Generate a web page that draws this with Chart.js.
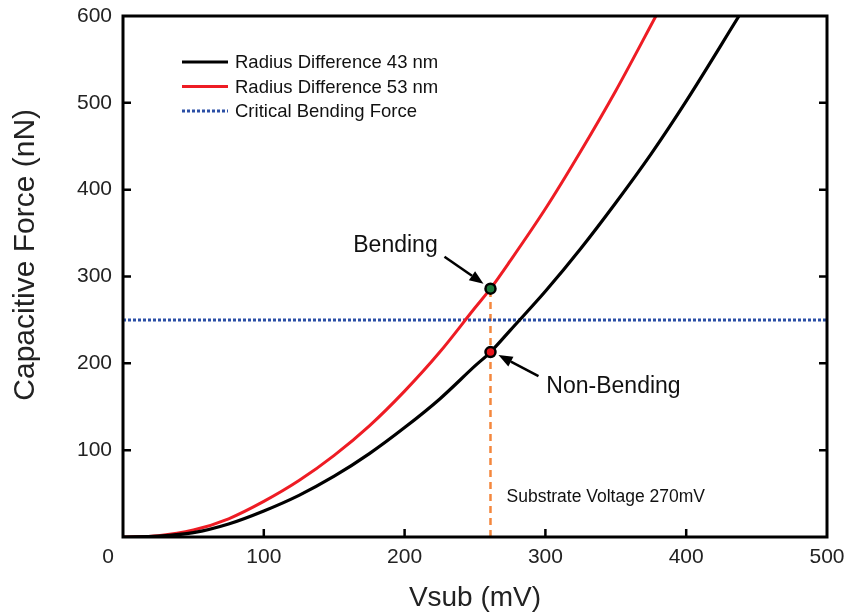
<!DOCTYPE html>
<html>
<head>
<meta charset="utf-8">
<script src="https://cdn.jsdelivr.net/npm/chart.js@4.4.1/dist/chart.umd.min.js"></script>
<style>
    html, body { margin: 0; padding: 0; background: #fff; }
    #wrap { width: 848px; height: 616px; }
</style>
</head>
<body>
<div id="wrap"><canvas id="capForce"></canvas></div>
<script>
// readings, Vsub in mV, force in nN
var vsub43 = [0, 25, 50, 75, 100, 125, 150, 175, 200, 225, 250, 261, 275, 300, 325, 350, 375, 400, 437.5];
var force43 = [0, 1, 5, 15, 30, 48, 70, 96, 126, 159, 197, 213, 238, 283, 332, 385, 441, 502, 600];
var vsub53 = [0, 25, 50, 75, 100, 125, 150, 175, 200, 225, 250, 261, 275, 300, 325, 350, 378.5];
var force53 = [0, 1.5, 8, 21, 41, 65, 94, 128, 168, 213, 264, 286, 318, 378, 444, 514, 600];
var criticalVsub = [0, 500];
var criticalForce = [250, 250];
var substrateVsub = [261, 261];
var substrateForce = [0, 286];
var bendingPoint = [261, 286];
var nonBendingPoint = [261, 213];
var xTickValues = [0, 100, 200, 300, 400, 500];
var yTickValues = [0, 100, 200, 300, 400, 500, 600];

var FONT = "'Liberation Sans', Arial, sans-serif";

function toPoints(xs, ys) {
    var pts = [];
    for (var i = 0; i < xs.length; ++i) {
        pts.push({ x: xs[i], y: ys[i] });
    }
    return pts;
}

function drawArrow(ctx, x1, y1, x2, y2) {
    var ang = Math.atan2(y2 - y1, x2 - x1);
    var head = 14, half = 5.5;
    var bx = x2 - Math.cos(ang) * head, by = y2 - Math.sin(ang) * head;
    ctx.save();
    ctx.strokeStyle = "#000";
    ctx.fillStyle = "#000";
    ctx.lineWidth = 2.5;
    ctx.beginPath();
    ctx.moveTo(x1, y1);
    ctx.lineTo(bx, by);
    ctx.stroke();
    ctx.beginPath();
    ctx.moveTo(x2, y2);
    ctx.lineTo(bx + Math.sin(ang) * half, by - Math.cos(ang) * half);
    ctx.lineTo(bx - Math.sin(ang) * half, by + Math.cos(ang) * half);
    ctx.closePath();
    ctx.fill();
    ctx.restore();
}

var framePlugin = {
    id: "frame",
    afterDatasetsDraw: function (chart) {
        var ctx = chart.ctx;
        var a = chart.chartArea;
        var xs = chart.scales.x, ys = chart.scales.y;

        ctx.save();
        // box round the plot
        ctx.strokeStyle = "#000";
        ctx.lineWidth = 3;
        ctx.strokeRect(a.left, a.top, a.right - a.left, a.bottom - a.top);

        // inward tick marks
        ctx.lineWidth = 2.5;
        ctx.beginPath();
        xTickValues.forEach(function (v) {
            if (v <= xs.min || v >= xs.max) return;
            var px = xs.getPixelForValue(v);
            ctx.moveTo(px, a.bottom);
            ctx.lineTo(px, a.bottom - 8);
        });
        yTickValues.forEach(function (v) {
            if (v <= ys.min || v >= ys.max) return;
            var py = ys.getPixelForValue(v);
            ctx.moveTo(a.left, py);
            ctx.lineTo(a.left + 8, py);
            ctx.moveTo(a.right, py);
            ctx.lineTo(a.right - 8, py);
        });
        ctx.stroke();

        // the "0" on the x axis sits left of the corner
        ctx.fillStyle = "#222";
        ctx.font = "21px " + FONT;
        ctx.textAlign = "center";
        ctx.textBaseline = "middle";
        ctx.fillText("0", xs.getPixelForValue(0) - 15, a.bottom + 20);

        // y axis title, sits a bit above the middle in the original
        ctx.save();
        ctx.font = "30px " + FONT;
        ctx.translate(26, ys.getPixelForValue(325));
        ctx.rotate(-Math.PI / 2);
        ctx.fillText("Capacitive Force (nN)", 0, 0);
        ctx.restore();

        // legend
        ctx.font = "18.5px " + FONT;
        ctx.textAlign = "left";
        var lx = a.left + 59, ly = a.top + 46;
        chart.data.datasets.forEach(function (ds) {
            if (!ds.inLegend) return;
            ctx.save();
            ctx.strokeStyle = ds.borderColor;
            ctx.lineWidth = ds.borderWidth;
            ctx.setLineDash(ds.borderDash || []);
            ctx.beginPath();
            ctx.moveTo(lx, ly);
            ctx.lineTo(lx + 46, ly);
            ctx.stroke();
            ctx.restore();
            ctx.fillStyle = "#111";
            ctx.fillText(ds.label, lx + 53, ly + 1);
            ly += 24.5;
        });

        // annotations
        var bx = xs.getPixelForValue(bendingPoint[0]), by = ys.getPixelForValue(bendingPoint[1]);
        var nx = xs.getPixelForValue(nonBendingPoint[0]), ny = ys.getPixelForValue(nonBendingPoint[1]);
        ctx.fillStyle = "#111";
        ctx.font = "23px " + FONT;
        ctx.textAlign = "center";
        ctx.fillText("Bending", bx - 95, by - 43);
        ctx.fillText("Non-Bending", nx + 123, ny + 35);
        drawArrow(ctx, bx - 46, by - 32, bx - 7, by - 5);
        drawArrow(ctx, nx + 48, ny + 24, nx + 8, ny + 3);

        ctx.font = "17.5px " + FONT;
        ctx.textAlign = "left";
        ctx.fillText("Substrate Voltage 270mV", xs.getPixelForValue(substrateVsub[0]) + 16, ys.getPixelForValue(46));
        ctx.restore();
    }
};

var config = {
    type: "scatter",
    data: {
        datasets: [{
            label: "Radius Difference 43 nm",
            inLegend: true,
            showLine: true,
            data: toPoints(vsub43, force43),
            borderColor: "#000000",
            borderWidth: 3.2,
            pointRadius: 0,
            cubicInterpolationMode: "monotone",
            order: 3
        }, {
            label: "Radius Difference 53 nm",
            inLegend: true,
            showLine: true,
            data: toPoints(vsub53, force53),
            borderColor: "#ee1c24",
            borderWidth: 3,
            pointRadius: 0,
            cubicInterpolationMode: "monotone",
            order: 3
        }, {
            label: "Critical Bending Force",
            inLegend: true,
            showLine: true,
            data: toPoints(criticalVsub, criticalForce),
            borderColor: "#2b4fa5",
            borderWidth: 3,
            borderDash: [3, 2],
            pointRadius: 0,
            order: 4
        }, {
            label: "Substrate Voltage",
            showLine: true,
            data: toPoints(substrateVsub, substrateForce),
            borderColor: "#f4873d",
            borderWidth: 2.5,
            borderDash: [7, 5],
            pointRadius: 0,
            order: 4
        }, {
            label: "Bending",
            data: [{ x: bendingPoint[0], y: bendingPoint[1] }],
            pointRadius: 5,
            pointBackgroundColor: "#1d7a3c",
            pointBorderColor: "#000",
            pointBorderWidth: 2.5,
            order: 1
        }, {
            label: "Non-Bending",
            data: [{ x: nonBendingPoint[0], y: nonBendingPoint[1] }],
            pointRadius: 5,
            pointBackgroundColor: "#e8141c",
            pointBorderColor: "#000",
            pointBorderWidth: 2.5,
            order: 1
        }]
    },
    options: {
        responsive: true,
        maintainAspectRatio: false,
        animation: false,
        layout: { padding: { top: 16, right: 21, left: 0, bottom: 0 } },
        plugins: {
            legend: { display: false },
            tooltip: { enabled: false }
        },
        scales: {
            x: {
                type: "linear",
                min: 0,
                max: 500,
                afterFit: function (scale) {
                    scale.height = 79;
                    scale.paddingLeft = 0;
                    scale.paddingRight = 0;
                },
                afterBuildTicks: function (scale) {
                    scale.ticks = xTickValues.map(function (v) { return { value: v }; });
                },
                grid: { display: false, drawTicks: false },
                border: { display: false },
                ticks: {
                    padding: 8,
                    color: "#222",
                    font: { family: FONT, size: 21 },
                    callback: function (v) { return v === 0 ? "" : v; }
                },
                title: {
                    display: true,
                    text: "Vsub (mV)",
                    color: "#222",
                    padding: { top: 0, bottom: 1 },
                    font: { family: FONT, size: 28 }
                }
            },
            y: {
                type: "linear",
                min: 0,
                max: 600,
                afterFit: function (scale) {
                    scale.width = 123;
                    scale.paddingTop = 0;
                    scale.paddingBottom = 0;
                },
                afterBuildTicks: function (scale) {
                    scale.ticks = yTickValues.map(function (v) { return { value: v }; });
                },
                grid: { display: false, drawTicks: false },
                border: { display: false },
                ticks: {
                    padding: 11,
                    color: "#222",
                    font: { family: FONT, size: 21 },
                    callback: function (v) { return v === 0 ? "" : v; }
                },
                title: { display: false }
            }
        }
    },
    plugins: [framePlugin]
};

var capChart = new Chart(document.getElementById("capForce"), config);
</script>
</body>
</html>
